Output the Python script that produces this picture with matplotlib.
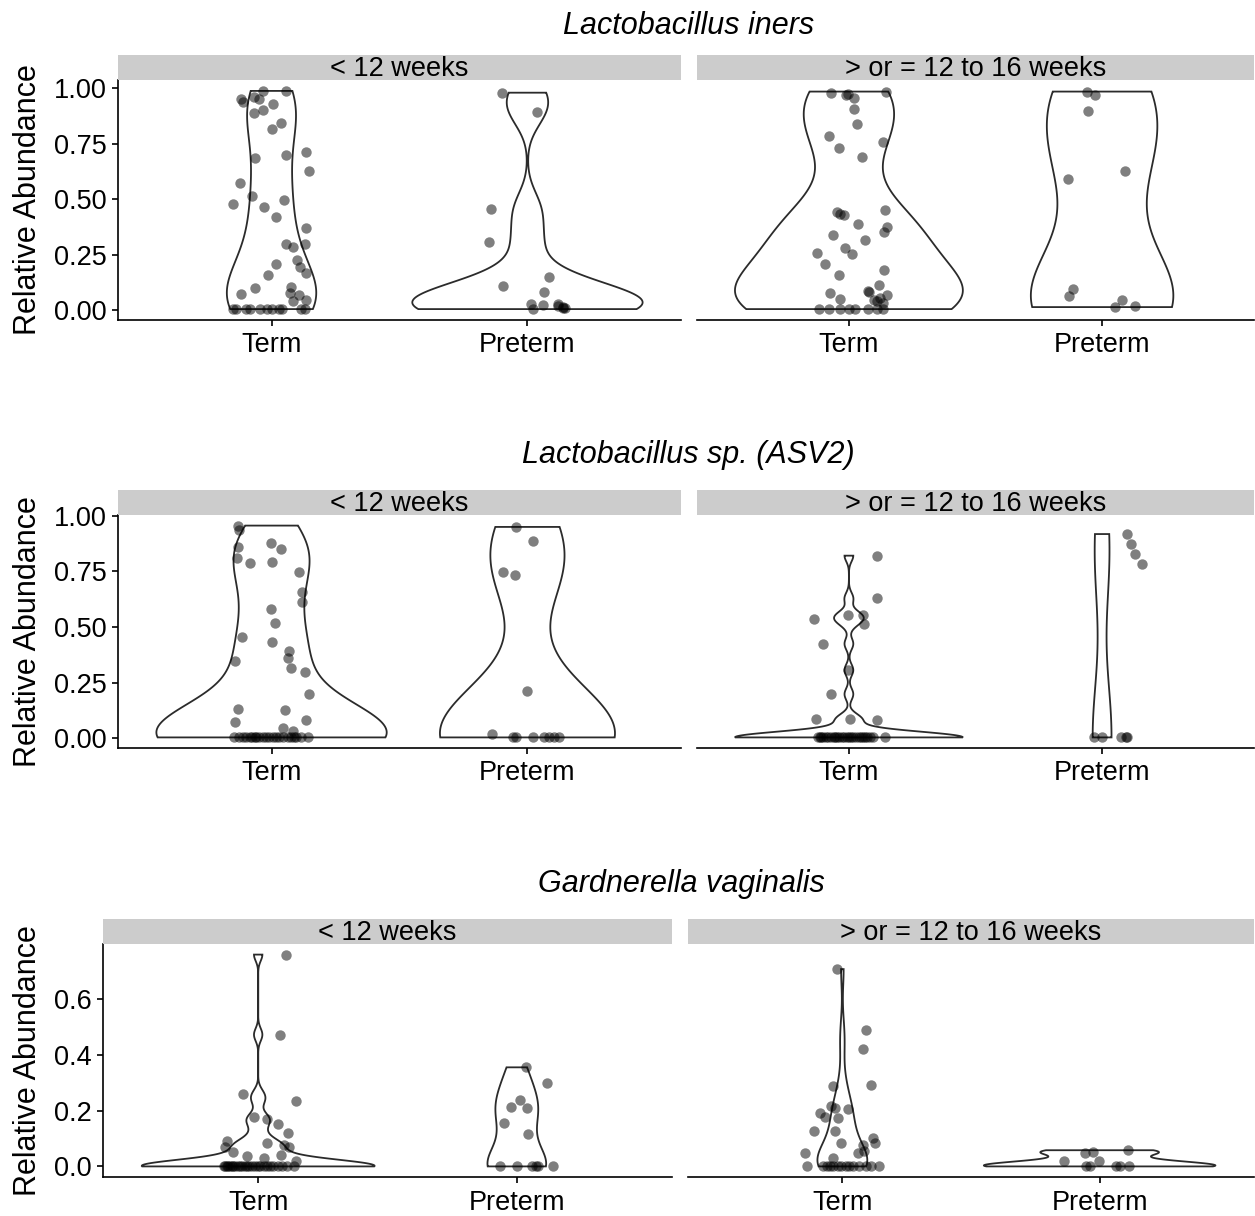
import numpy as np
import matplotlib.pyplot as plt

plt.rcParams['font.family'] = ['Liberation Sans', 'DejaVu Sans']

# ---- Lactobacillus iners -------------------------------------------------
iners_early_term = [0.988, 0.988, 0.953, 0.938, 0.961, 0.953, 0.928, 0.890, 0.900, 0.843,
                    0.818, 0.715, 0.701, 0.686, 0.629, 0.573, 0.517, 0.481, 0.496, 0.466,
                    0.422, 0.370, 0.297, 0.286, 0.300, 0.210, 0.226, 0.195, 0.169, 0.161,
                    0.101, 0.074, 0.105, 0.078, 0.071, 0.045, 0.041,
                    0.006, 0.006, 0.006, 0.006, 0.006, 0.006, 0.006, 0.006, 0.006, 0.006, 0.006]
iners_early_term_jit = [-0.034, 0.055, -0.118, -0.112, -0.069, -0.050, 0.005, -0.070, -0.034, 0.035,
                        0.001, 0.133, 0.055, -0.066, 0.146, -0.125, -0.077, -0.151, 0.048, -0.030,
                        0.018, 0.133, 0.057, 0.083, 0.130, 0.016, 0.100, 0.113, 0.136, -0.014,
                        -0.063, -0.118, 0.077, 0.073, 0.109, 0.136, 0.083,
                        -0.152, -0.137, -0.098, -0.086, -0.047, -0.016, 0.000, 0.031, 0.039, 0.117, 0.129]
iners_early_pre = [0.980, 0.893, 0.456, 0.308, 0.151, 0.109, 0.085, 0.029, 0.006, 0.026,
                   0.029, 0.014, 0.010, 0.022, 0.012]
iners_early_pre_jit = [-0.099, 0.036, -0.142, -0.152, 0.083, -0.096, 0.063, 0.014, 0.021, 0.060,
                       0.118, 0.138, 0.145, 0.120, 0.140]
iners_late_term = [0.980, 0.968, 0.976, 0.958, 0.985, 0.908, 0.837, 0.783, 0.730, 0.757,
                   0.690, 0.443, 0.436, 0.428, 0.451, 0.390, 0.377, 0.354, 0.341, 0.315,
                   0.279, 0.256, 0.259, 0.210, 0.184, 0.161, 0.116, 0.078, 0.089, 0.083,
                   0.071, 0.053, 0.048, 0.041, 0.056, 0.033,
                   0.006, 0.006, 0.006, 0.006, 0.006, 0.006, 0.006, 0.006]
iners_late_term_jit = [-0.072, -0.013, -0.005, 0.020, 0.146, 0.020, 0.030, -0.079, -0.039, 0.135,
                       0.052, -0.049, -0.035, -0.020, 0.142, 0.034, 0.149, 0.139, -0.062, 0.063,
                       -0.016, 0.011, -0.125, -0.095, 0.139, -0.039, 0.118, -0.075, 0.074, 0.079,
                       0.151, -0.035, 0.099, 0.109, 0.122, 0.135,
                       -0.117, -0.078, -0.035, 0.001, 0.024, 0.076, 0.112, 0.135]
iners_late_pre = [0.985, 0.971, 0.898, 0.629, 0.591, 0.098, 0.066, 0.045, 0.015, 0.018]
iners_late_pre_jit = [-0.058, -0.028, -0.054, 0.091, -0.134, -0.113, -0.130, 0.080, 0.051, 0.130]

# ---- Lactobacillus sp. (ASV2) --------------------------------------------
asv2_early_term = [0.955, 0.937, 0.879, 0.851, 0.858, 0.811, 0.786, 0.790, 0.748, 0.658,
                   0.612, 0.579, 0.519, 0.454, 0.431, 0.394, 0.361, 0.315, 0.348, 0.296,
                   0.198, 0.130, 0.125, 0.072, 0.081, 0.047, 0.032,
                   0.004, 0.004, 0.004, 0.004, 0.004, 0.004, 0.004, 0.004, 0.004, 0.004,
                   0.004, 0.004, 0.004, 0.004, 0.004, 0.004, 0.004, 0.004, 0.004, 0.004,
                   0.004, 0.004]
asv2_early_term_jit = [-0.132, -0.129, -0.001, 0.038, -0.132, -0.136, -0.086, 0.003, 0.107, 0.120,
                       0.120, -0.001, 0.014, -0.116, 0.000, 0.068, 0.064, 0.077, -0.141, 0.132,
                       0.145, -0.132, 0.054, -0.143, 0.136, 0.044, 0.083,
                       -0.145, -0.128, -0.112, -0.099, -0.086, -0.076, -0.066, -0.060, -0.048, -0.035,
                       -0.021, -0.008, 0.004, 0.018, 0.030, 0.045, 0.064, 0.077, 0.087, 0.096,
                       0.116, 0.142]
asv2_early_pre = [0.949, 0.884, 0.745, 0.733, 0.213, 0.020,
                  0.004, 0.004, 0.004, 0.004, 0.004, 0.004, 0.004]
asv2_early_pre_jit = [-0.044, 0.023, -0.096, -0.047, -0.003, -0.138,
                      -0.057, -0.044, 0.021, 0.063, 0.086, 0.102, 0.125]
asv2_late_term = [0.820, 0.628, 0.534, 0.552, 0.552, 0.514, 0.424, 0.306, 0.198, 0.085,
                  0.085, 0.081,
                  0.004, 0.004, 0.004, 0.004, 0.004, 0.004, 0.004, 0.004, 0.004, 0.004, 0.004,
                  0.004, 0.004, 0.004, 0.004, 0.004, 0.004, 0.004, 0.004, 0.004, 0.004, 0.004,
                  0.004, 0.004, 0.004, 0.004]
asv2_late_term_jit = [0.112, 0.109, -0.138, -0.003, 0.056, 0.059, -0.101, -0.003, -0.072, -0.130,
                      0.004, 0.112,
                      -0.121, -0.112, -0.101, -0.092, -0.082, -0.070, -0.060, -0.049, -0.040, -0.029,
                      -0.019, -0.009, 0.002, 0.017, 0.028, 0.041, 0.056, 0.063, 0.070, 0.083,
                      0.096, 0.142, -0.115, -0.055, 0.010, 0.048]
asv2_late_pre = [0.917, 0.872, 0.827, 0.781, 0.004, 0.004, 0.004, 0.004, 0.004]
asv2_late_pre_jit = [0.097, 0.116, 0.130, 0.157, -0.032, -0.001, 0.074, 0.093, 0.100]

# ---- Gardnerella vaginalis -----------------------------------------------
gard_early_term = [0.759, 0.472, 0.259, 0.234, 0.177, 0.171, 0.151, 0.120, 0.090, 0.070,
                   0.084, 0.078, 0.070, 0.052, 0.036, 0.030, 0.042, 0.018,
                   0.0, 0.0, 0.0, 0.0, 0.0, 0.0, 0.0, 0.0, 0.0, 0.0, 0.0, 0.0, 0.0,
                   0.0, 0.0, 0.0, 0.0, 0.0, 0.0, 0.0, 0.0, 0.0, 0.0, 0.0, 0.0, 0.0]
gard_early_term_jit = [0.107, 0.085, -0.059, 0.147, -0.018, 0.034, 0.077, 0.117, -0.119, -0.128,
                       0.034, 0.098, 0.120, -0.098, -0.044, 0.024, 0.088, 0.147,
                       -0.134, -0.128, -0.121, -0.115, -0.108, -0.101, -0.096, -0.089, -0.079,
                       -0.070, -0.062, -0.050, -0.044, -0.034, -0.024, -0.012, 0.000, 0.008,
                       0.021, 0.034, 0.046, 0.059, 0.075, 0.092, 0.110, 0.137]
gard_early_pre = [0.355, 0.299, 0.239, 0.214, 0.208, 0.154, 0.115,
                  0.0, 0.0, 0.0, 0.0, 0.0, 0.0]
gard_early_pre_jit = [0.034, 0.115, 0.014, -0.023, 0.040, -0.049, 0.044,
                      -0.066, -0.001, 0.057, 0.076, 0.082, 0.138]
gard_late_term = [0.707, 0.488, 0.422, 0.292, 0.289, 0.217, 0.211, 0.205, 0.193, 0.178,
                  0.175, 0.126, 0.126, 0.102, 0.084, 0.084, 0.078, 0.048, 0.048, 0.054,
                  0.030,
                  0.0, 0.0, 0.0, 0.0, 0.0, 0.0, 0.0, 0.0, 0.0, 0.0, 0.0, 0.0, 0.0, 0.0]
gard_late_term_jit = [-0.022, 0.092, 0.079, 0.111, -0.035, -0.044, -0.028, 0.021, -0.087, -0.066,
                      -0.018, -0.111, -0.027, 0.120, 0.128, -0.005, 0.081, -0.144, 0.059, 0.085,
                      -0.035,
                      -0.139, -0.076, -0.060, -0.050, -0.038, -0.018, -0.005, 0.014, 0.027, 0.040,
                      0.066, 0.092, 0.111, 0.144]
gard_late_pre = [0.058, 0.048, 0.052, 0.021, 0.018, 0.0, 0.0, 0.0, 0.0, 0.0]
gard_late_pre_jit = [0.110, -0.058, -0.026, -0.140, -0.004, -0.052, -0.036, 0.063, 0.080, 0.115]

outcomes = ['Term', 'Preterm']
windows = ['< 12 weeks', '> or = 12 to 16 weeks']

W, H = 1255, 1216


def px_rect(x0, y0, x1, y1):
    """pixel box (top-left origin) -> figure fraction"""
    return [x0 / W, 1 - y1 / H, (x1 - x0) / W, (y1 - y0) / H]


def bw_nrd0(y):
    hi = np.std(y, ddof=1)
    q25, q75 = np.percentile(y, [25, 75])
    lo = min(hi, (q75 - q25) / 1.34)
    if lo == 0:
        lo = hi or abs(y[0]) or 1.0
    return 0.9 * lo * len(y) ** -0.2


def violin_density(y):
    """gaussian kde trimmed to the data range"""
    y = np.asarray(y, dtype=float)
    bw = bw_nrd0(y)
    grid = np.linspace(y.min(), y.max(), 512)
    dens = np.exp(-0.5 * ((grid[:, None] - y[None, :]) / bw) ** 2).sum(axis=1)
    dens /= len(y) * bw * np.sqrt(2 * np.pi)
    return grid, dens


def draw_panel(ax, groups):
    curves = [violin_density(yv) for yv, _ in groups]
    peak = max(d.max() for _, d in curves)
    for pos, (grid, dens) in enumerate(curves, start=1):
        half = 0.45 * dens / peak
        ax.fill(np.r_[pos - half, (pos + half)[::-1]], np.r_[grid, grid[::-1]],
                facecolor='white', edgecolor='#2b2b2b', lw=1.3, zorder=2)
    for pos, (yv, jit) in enumerate(groups, start=1):
        ax.scatter(pos + np.asarray(jit), yv, s=56, color='black', alpha=0.5,
                   linewidths=0, zorder=3)


rows = [
    dict(title='Lactobacillus iners', title_y=26, strip=55, top=80, bottom=320,
         panels=[(118, 681), (697, 1254)],
         ticks=[0, 0.25, 0.5, 0.75, 1.0], fmt='{:.2f}',
         data=[[(iners_early_term, iners_early_term_jit), (iners_early_pre, iners_early_pre_jit)],
               [(iners_late_term, iners_late_term_jit), (iners_late_pre, iners_late_pre_jit)]]),
    dict(title='Lactobacillus sp. (ASV2)', title_y=455, strip=490, top=515, bottom=748,
         panels=[(118, 681), (697, 1254)],
         ticks=[0, 0.25, 0.5, 0.75, 1.0], fmt='{:.2f}',
         data=[[(asv2_early_term, asv2_early_term_jit), (asv2_early_pre, asv2_early_pre_jit)],
               [(asv2_late_term, asv2_late_term_jit), (asv2_late_pre, asv2_late_pre_jit)]]),
    dict(title='Gardnerella vaginalis', title_y=884, strip=919, top=944, bottom=1177,
         panels=[(103, 672), (688, 1254)],
         ticks=[0, 0.2, 0.4, 0.6], fmt='{:.1f}',
         data=[[(gard_early_term, gard_early_term_jit), (gard_early_pre, gard_early_pre_jit)],
               [(gard_late_term, gard_late_term_jit), (gard_late_pre, gard_late_pre_jit)]]),
]

fig = plt.figure(figsize=(W / 100, H / 100), dpi=100)
FS_TICK = 19.5
FS_LAB = 22
FS_TITLE = 22

for row in rows:
    # shared y scale across both facets, expanded by 5% like ggplot
    all_y = np.concatenate([np.asarray(g[0]) for facet in row['data'] for g in facet])
    lo, hi = all_y.min(), all_y.max()
    pad = 0.05 * (hi - lo)
    ylim = (lo - pad, hi + pad)

    for i, ((x0, x1), facet) in enumerate(zip(row['panels'], row['data'])):
        ax = fig.add_axes(px_rect(x0, row['top'], x1, row['bottom']))
        draw_panel(ax, facet)
        ax.set_xlim(0.4, 2.6)
        ax.set_ylim(*ylim)
        ax.set_xticks([1, 2])
        ax.set_xticklabels(outcomes)
        ax.set_yticks(row['ticks'])
        ax.set_yticklabels([row['fmt'].format(t) for t in row['ticks']])
        for side in ['top', 'right']:
            ax.spines[side].set_visible(False)
        ax.spines['bottom'].set_linewidth(1.2)
        ax.spines['left'].set_linewidth(1.2)
        ax.tick_params(direction='out', length=4, width=1.2, labelsize=FS_TICK,
                       colors='black')
        ax.tick_params(axis='x', pad=5)
        ax.tick_params(axis='y', pad=4)
        if i == 1:
            ax.spines['left'].set_visible(False)
            ax.tick_params(axis='y', left=False, labelleft=False)

        # facet strip
        sax = fig.add_axes(px_rect(x0, row['strip'], x1, row['top']))
        sax.set_facecolor('#CCCCCC')
        sax.set_xticks([])
        sax.set_yticks([])
        for sp in sax.spines.values():
            sp.set_visible(False)
        sax.text(0.5, 0.45, windows[i], ha='center', va='center', fontsize=FS_TICK,
                 transform=sax.transAxes)

    left, right = row['panels'][0][0], row['panels'][1][1]
    fig.text((left + right) / 2 / W + 0.002, 1 - row['title_y'] / H, row['title'],
             ha='center', va='center', fontsize=FS_TITLE, style='italic')
    fig.text(28 / W, 1 - (row['top'] + row['bottom']) / 2 / H, 'Relative Abundance',
             ha='center', va='center', rotation=90, fontsize=FS_LAB)

fig.savefig('out.png', dpi=100)
